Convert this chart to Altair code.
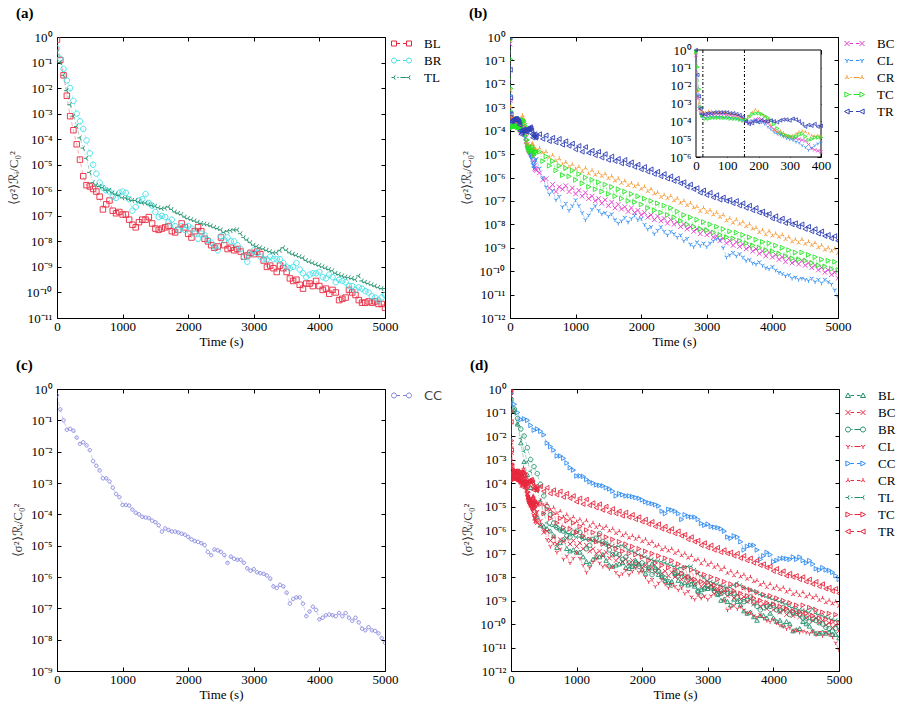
import altair as alt
import pandas as pd

FONT = "Liberation Serif"
W = 328
H_TOP = 281
H_BOT = 282

# ---------------- data: log10 of <sigma^2>_Ri / C0^2 ----------------
T_50 = list(range(0, 5001, 50))

A_BL = [
    -0.1, -0.9, -1.5, -2.3, -3.1, -3.65, -4.2, -4.8, -5.45, -5.8,
    -5.85, -5.95, -6.05, -6.25, -6.75, -6.55, -6.4, -6.8, -6.9, -6.85,
    -6.95, -6.95, -7.15, -7.35, -7.45, -7.25, -7.15, -7.15, -7.05, -7.3,
    -7.5, -7.55, -7.5, -7.45, -7.4, -7.6, -7.65, -7.55, -7.3, -7.45,
    -7.7, -7.85, -7.6, -7.45, -7.6, -7.9, -8.0, -8.15, -8.25, -8.2,
    -7.85, -8.15, -8.3, -8.25, -8.35, -8.3, -8.4, -8.6, -8.55, -8.45,
    -8.5, -8.4, -8.5, -8.75, -9.0, -8.95, -9.05, -9.2, -8.95, -9.05,
    -9.2, -9.45, -9.55, -9.5, -9.7, -9.85, -9.65, -9.65, -9.75, -9.55,
    -9.75, -9.9, -9.85, -10.05, -9.9, -10.0, -10.3, -10.25, -10.2, -9.9,
    -10.0, -10.1, -10.3, -10.4, -10.4, -10.35, -10.4, -10.35, -10.45, -10.45,
    -10.6]
A_BR = [
    -0.45, -0.85, -1.25, -1.7, -2.0, -2.5, -3.0, -3.3, -3.6, -4.05,
    -4.55, -5.0, -5.35, -5.7, -5.9, -6.0, -6.05, -6.25, -6.3, -6.1,
    -6.05, -6.1, -6.35, -6.8, -6.65, -6.4, -6.35, -6.15, -6.5, -6.6,
    -6.85, -7.05, -7.0, -7.05, -7.25, -7.15, -7.4, -7.55, -7.4, -7.55,
    -7.4, -7.5, -7.7, -7.9, -7.7, -7.75, -7.95, -8.05, -8.2, -8.35,
    -7.8, -7.95, -7.85, -8.0, -8.0, -8.15, -8.3, -8.6, -8.8, -8.5,
    -8.35, -8.45, -8.6, -8.7, -8.7, -8.6, -8.7, -8.7, -8.7, -8.85,
    -9.0, -9.05, -9.0, -8.85, -9.1, -9.25, -9.4, -9.3, -9.25, -9.25,
    -9.2, -9.4, -9.45, -9.3, -9.4, -9.6, -9.5, -9.55, -9.6, -9.75,
    -9.75, -9.9, -9.8, -9.85, -9.95, -10.0, -10.15, -10.2, -10.3, -10.2,
    -10.1]
A_TL = [
    -0.6, -1.0, -1.5, -2.1, -2.65, -3.1, -3.5, -3.95, -4.35, -4.75,
    -5.3, -5.7, -5.8, -5.85, -5.9, -6.0, -6.0, -6.1, -6.15, -6.2,
    -6.3, -6.3, -6.35, -6.4, -6.4, -6.45, -6.5, -6.5, -6.55, -6.6,
    -6.62, -6.68, -6.72, -6.7, -6.65, -6.75, -6.85, -6.9, -6.95, -7.05,
    -7.1, -7.15, -7.2, -7.25, -7.3, -7.32, -7.35, -7.4, -7.45, -7.5,
    -7.55, -7.65, -7.6, -7.58, -7.55, -7.55, -7.7, -7.85, -7.95, -8.05,
    -8.15, -8.2, -8.25, -8.3, -8.35, -8.4, -8.45, -8.45, -8.35, -8.25,
    -8.35, -8.45, -8.5, -8.55, -8.6, -8.65, -8.75, -8.8, -8.85, -8.9,
    -8.95, -9.0, -9.05, -9.1, -9.15, -9.25, -9.3, -9.35, -9.4, -9.42,
    -9.45, -9.5, -9.35, -9.55, -9.6, -9.65, -9.7, -9.75, -9.8, -9.85,
    -9.85]
C_CC = [
    -0.2, -0.65, -1.0, -1.3, -1.27, -1.33, -1.55, -1.75, -1.7, -1.8,
    -1.95, -2.3, -2.45, -2.6, -2.85, -2.85, -2.95, -3.15, -3.35, -3.45,
    -3.7, -3.7, -3.72, -3.85, -3.95, -4.0, -4.08, -4.1, -4.12, -4.2,
    -4.25, -4.35, -4.55, -4.45, -4.5, -4.55, -4.55, -4.58, -4.62, -4.65,
    -4.72, -4.8, -4.85, -4.88, -4.92, -4.98, -5.2, -5.3, -5.12, -5.15,
    -5.2, -5.3, -5.55, -5.35, -5.42, -5.45, -5.45, -5.55, -5.72, -5.8,
    -5.75, -5.85, -5.88, -5.9, -5.95, -6.05, -6.3, -6.35, -6.25, -6.3,
    -6.5, -6.85, -6.7, -6.65, -6.65, -6.85, -7.25, -7.1, -6.95, -7.05,
    -7.35, -7.3, -7.22, -7.2, -7.22, -7.25, -7.15, -7.25, -7.15, -7.3,
    -7.4, -7.3, -7.45, -7.65, -7.7, -7.6, -7.7, -7.72, -7.8, -7.95,
    -8.1]

T_B = [0, 5, 10, 15, 20] + list(range(30, 401, 10)) + list(range(450, 5001, 50))

B_BC = [
    -0.3, -2.7, -3.3, -3.55, -3.65,
    -3.65, -3.6, -3.6, -3.6, -3.6, -3.6, -3.6, -3.65, -3.65, -3.7,
    -3.7, -3.75, -3.85, -4.0, -4.1, -4.0, -3.9, -3.85, -3.9, -4.0,
    -4.1, -4.3, -4.45, -4.6, -4.7, -4.8, -4.85, -4.9, -4.95, -4.95,
    -5.0, -5.05, -5.1, -5.3, -5.5, -5.6, -5.65, -5.7,
    -5.8, -6.1, -6.05, -6.45, -6.3, -6.6, -6.4, -6.5, -6.35, -6.6,
    -6.45, -6.7, -6.55, -6.8, -6.65, -6.9, -6.8, -7.0, -6.9, -7.1,
    -6.95, -7.2, -7.05, -7.3, -7.15, -7.35, -7.25, -7.45, -7.3, -7.5,
    -7.4, -7.6, -7.5, -7.7, -7.6, -7.8, -7.65, -7.85, -7.75, -7.95,
    -7.8, -8.0, -7.9, -8.1, -8.0, -8.2, -8.1, -8.3, -8.2, -8.4,
    -8.25, -8.45, -8.35, -8.55, -8.5, -8.7, -8.6, -8.8, -8.7, -8.9,
    -8.75, -8.95, -8.85, -9.05, -8.95, -9.15, -9.05, -9.25, -9.15, -9.35,
    -9.2, -9.4, -9.3, -9.5, -9.4, -9.6, -9.45, -9.65, -9.55, -9.7,
    -9.55, -9.75, -9.65, -9.85, -9.75, -9.95, -9.85, -10.05, -9.95, -10.15,
    -10.05, -10.3]
B_CL = [
    -0.2, -2.5, -3.2, -3.6, -3.75,
    -3.8, -3.75, -3.75, -3.75, -3.75, -3.75, -3.8, -3.8, -3.8, -3.85,
    -3.85, -3.9, -3.95, -4.0, -4.0, -3.95, -3.95, -4.0, -4.05, -4.15,
    -4.3, -4.45, -4.6, -4.7, -4.75, -4.85, -4.95, -5.0, -5.05, -5.15,
    -5.2, -5.35, -5.45, -5.6, -5.5, -5.35, -5.25, -5.2,
    -5.6, -6.0, -6.4, -6.7, -6.55, -6.95, -6.8, -7.25, -7.1, -7.4,
    -7.2, -6.95, -7.2, -7.5, -7.8, -7.6, -7.35, -7.2, -7.4, -7.55,
    -7.5, -7.65, -7.55, -7.8, -7.95, -7.85, -7.7, -7.9, -7.75, -7.6,
    -7.8, -7.75, -8.0, -8.2, -8.1, -8.4, -8.25, -8.1, -8.3, -8.45,
    -8.3, -8.4, -8.55, -8.45, -8.7, -8.6, -8.85, -8.95, -8.75, -8.9,
    -8.8, -8.95, -8.8, -8.7, -8.6, -8.65, -9.0, -9.4, -9.3, -9.2,
    -9.35, -9.25, -9.4, -9.55, -9.5, -9.65, -9.7, -9.6, -9.75, -9.85,
    -9.9, -9.8, -9.95, -10.05, -10.1, -10.2, -10.15, -10.3, -10.25, -10.35,
    -10.3, -10.35, -10.4, -10.3, -10.45, -10.35, -10.5, -10.35, -10.45, -10.55,
    -10.8, -11.1]
B_CR = [
    -0.2, -2.3, -3.0, -3.4, -3.5,
    -3.5, -3.45, -3.45, -3.5, -3.5, -3.5, -3.5, -3.55, -3.6, -3.6,
    -3.65, -3.7, -3.85, -3.9, -3.7, -3.5, -3.35, -3.45, -3.6, -3.75,
    -3.9, -4.2, -4.5, -4.6, -4.55, -4.65, -4.8, -4.85, -4.8, -4.7,
    -4.6, -4.55, -4.6, -4.7, -4.8, -4.85, -4.8, -4.85,
    -4.75, -4.95, -4.9, -5.15, -5.05, -5.3, -5.2, -5.45, -5.35, -5.55,
    -5.45, -5.65, -5.55, -5.75, -5.6, -5.85, -5.7, -5.9, -5.8, -5.95,
    -5.85, -6.05, -5.95, -6.15, -6.05, -6.25, -6.15, -6.35, -6.25, -6.4,
    -6.3, -6.5, -6.4, -6.6, -6.5, -6.7, -6.65, -6.85, -6.75, -6.9,
    -6.8, -7.0, -6.9, -7.1, -7.0, -7.2, -7.1, -7.3, -7.25, -7.45,
    -7.3, -7.5, -7.4, -7.6, -7.5, -7.7, -7.6, -7.85, -7.75, -7.95,
    -7.8, -8.0, -7.9, -8.1, -8.0, -8.2, -8.15, -8.35, -8.25, -8.45,
    -8.3, -8.5, -8.4, -8.55, -8.45, -8.65, -8.55, -8.75, -8.65, -8.8,
    -8.65, -8.85, -8.75, -8.9, -8.8, -9.0, -8.9, -9.1, -9.0, -9.15,
    -9.05, -9.25]
B_TC = [
    -0.1, -0.95, -2.2, -3.2, -3.7,
    -3.85, -3.85, -3.8, -3.8, -3.8, -3.8, -3.8, -3.8, -3.85, -3.85,
    -3.85, -3.9, -3.95, -3.9, -3.75, -3.6, -3.55, -3.55, -3.6, -3.7,
    -3.8, -3.95, -4.15, -4.4, -4.65, -4.75, -4.8, -4.85, -4.9, -4.85,
    -4.75, -4.7, -4.85, -5.05, -5.0, -4.9, -4.9, -4.9,
    -4.9, -5.3, -5.1, -5.5, -5.3, -5.7, -5.5, -5.9, -5.6, -5.95,
    -5.7, -6.1, -5.85, -6.25, -6.0, -6.4, -6.1, -6.5, -6.2, -6.6,
    -6.3, -6.7, -6.4, -6.8, -6.5, -6.9, -6.6, -7.0, -6.7, -7.05,
    -6.8, -7.15, -6.9, -7.3, -7.0, -7.4, -7.1, -7.5, -7.2, -7.6,
    -7.3, -7.7, -7.45, -7.85, -7.6, -8.0, -7.7, -8.1, -7.8, -8.2,
    -7.9, -8.25, -8.0, -8.35, -8.1, -8.45, -8.2, -8.55, -8.3, -8.6,
    -8.35, -8.7, -8.45, -8.8, -8.55, -8.9, -8.65, -9.0, -8.75, -9.1,
    -8.8, -9.15, -8.9, -9.25, -9.0, -9.35, -9.1, -9.45, -9.2, -9.5,
    -9.2, -9.55, -9.3, -9.65, -9.4, -9.75, -9.5, -9.8, -9.55, -9.9,
    -9.6, -9.95]
B_TR = [
    0.0, -1.4, -2.6, -3.3, -3.6,
    -3.6, -3.55, -3.55, -3.5, -3.5, -3.5, -3.5, -3.5, -3.55, -3.55,
    -3.6, -3.65, -3.75, -4.0, -4.15, -4.1, -4.0, -4.05, -3.95, -4.0,
    -4.0, -3.95, -4.0, -4.05, -3.95, -3.9, -3.9, -3.95, -3.85, -3.9,
    -4.0, -4.15, -4.3, -4.2, -4.25, -4.15, -4.3, -4.25,
    -4.15, -4.35, -4.2, -4.45, -4.3, -4.5, -4.35, -4.6, -4.45, -4.65,
    -4.55, -4.8, -4.65, -4.9, -4.7, -4.95, -4.85, -5.05, -4.9, -5.15,
    -5.0, -5.25, -5.1, -5.3, -5.2, -5.4, -5.25, -5.45, -5.35, -5.55,
    -5.45, -5.65, -5.55, -5.75, -5.65, -5.85, -5.75, -5.95, -5.85, -6.05,
    -5.95, -6.15, -6.05, -6.25, -6.2, -6.4, -6.3, -6.5, -6.45, -6.65,
    -6.55, -6.75, -6.65, -6.85, -6.75, -6.95, -6.85, -7.0, -6.95, -7.1,
    -7.0, -7.2, -7.1, -7.3, -7.2, -7.4, -7.3, -7.5, -7.45, -7.6,
    -7.55, -7.75, -7.65, -7.85, -7.75, -7.95, -7.85, -8.0, -7.95, -8.1,
    -8.0, -8.2, -8.1, -8.3, -8.2, -8.4, -8.3, -8.5, -8.45, -8.6,
    -8.5, -8.7]

INSET_MAX_T = 400
INSET_VLINES = [22, 155]
X_TICKS = [0, 1000, 2000, 3000, 4000, 5000]
INSET_X_TICKS = [0, 100, 200, 300, 400]

for arr in (A_BL, A_BR, A_TL, C_CC):
    assert len(arr) == len(T_50)
for arr in (B_BC, B_CL, B_CR, B_TC, B_TR):
    assert len(arr) == len(T_B)


def frame(t, logs, name):
    return pd.DataFrame({"t": t, "v": [10.0 ** x for x in logs], "s": name})


df_a = pd.concat([frame(T_50, A_BL, "BL"), frame(T_50, A_BR, "BR"), frame(T_50, A_TL, "TL")])
df_b = pd.concat([frame(T_B, B_BC, "BC"), frame(T_B, B_CL, "CL"), frame(T_B, B_CR, "CR"),
                  frame(T_B, B_TC, "TC"), frame(T_B, B_TR, "TR")])
df_c = frame(T_50, C_CC, "CC")
df_d = pd.concat([frame(T_50, A_BL, "BL"), frame(T_B, B_BC, "BC"), frame(T_50, A_BR, "BR"),
                  frame(T_B, B_CL, "CL"), frame(T_50, C_CC, "CC"), frame(T_B, B_CR, "CR"),
                  frame(T_50, A_TL, "TL"), frame(T_B, B_TC, "TC"), frame(T_B, B_TR, "TR")])

# ---------------- styles ----------------
RED = "#e8283e"
CYAN = "#3cdfe6"
TEAL = "#1e8f6a"
MAGENTA = "#e23ccb"
BLUE = "#2f8cf0"
ORANGE = "#f5962e"
GREEN = "#25e625"
NAVY = "#2f3fb5"
PERI = "#8080dc"

DASHED = [4, 3]
DASHDOT = [4, 2, 1, 2]


def n(v):
    return f"{round(v, 3):g}"


def marker(kind, cx, r):
    if kind == "square":
        return f"M{n(cx-r)},{n(-r)}H{n(cx+r)}V{n(r)}H{n(cx-r)}Z"
    if kind == "circle":
        return f"M{n(cx-r)},0A{n(r)} {n(r)} 0 1 0 {n(cx+r)} 0A{n(r)} {n(r)} 0 1 0 {n(cx-r)} 0Z"
    if kind == "x":
        return f"M{n(cx-r)},{n(-r)}L{n(cx+r)},{n(r)}M{n(cx-r)},{n(r)}L{n(cx+r)},{n(-r)}"
    if kind == "tridown":
        return (f"M{n(cx)},0V{n(r)}M{n(cx)},0L{n(cx-0.87*r)},{n(-0.5*r)}"
                f"M{n(cx)},0L{n(cx+0.87*r)},{n(-0.5*r)}")
    if kind == "triup":
        return (f"M{n(cx)},0V{n(-r)}M{n(cx)},0L{n(cx-0.87*r)},{n(0.5*r)}"
                f"M{n(cx)},0L{n(cx+0.87*r)},{n(0.5*r)}")
    if kind == "trileft":
        return (f"M{n(cx)},0H{n(cx-r)}M{n(cx)},0L{n(cx+0.5*r)},{n(-0.87*r)}"
                f"M{n(cx)},0L{n(cx+0.5*r)},{n(0.87*r)}")
    if kind == "tright":
        return f"M{n(cx-0.85*r)},{n(-r)}L{n(cx+r)},0L{n(cx-0.85*r)},{n(r)}Z"
    if kind == "tleft":
        return f"M{n(cx+0.85*r)},{n(-r)}L{n(cx-r)},0L{n(cx+0.85*r)},{n(r)}Z"
    if kind == "tup":
        return f"M{n(cx)},{n(-r)}L{n(cx+r)},{n(0.8*r)}L{n(cx-r)},{n(0.8*r)}Z"
    raise ValueError(kind)


def legend_symbol(kind, dash, r=0.5):
    if dash == "dashed":
        conn = "M-1,0H-0.3M0.3,0H1"
    else:
        conn = "M-0.85,0H-0.6M-0.2,0H1"
    return marker(kind, -1.5, r) + conn + marker(kind, 1.5, r)


SUPS = "⁰¹²³⁴⁵⁶⁷⁸⁹"
E = "round(-log(datum.value)/LN10)"
SUP_EXPR = ("'10' + (" + E + " < 0.5 ? '⁰' : '⁻' + (" + E + " >= 10 ? '¹' + substring('" + SUPS
            + "', " + E + " - 10, " + E + " - 9) : substring('" + SUPS + "', " + E + ", " + E + " + 1)))")
YTITLE = "⟨σ²⟩ℛᵢ/C₀²"


def ax_x_bottom(values, offset, with_title=True):
    kw = dict(orient="bottom", values=values, format="d", offset=offset, tickSize=4, tickColor="black",
              domain=False, grid=False, labelPadding=2, labelFont=FONT, labelFontSize=13,
              labelColor="black", labelFlush=False, labelOverlap=False)
    if with_title:
        kw.update(title="Time (s)", titleFont=FONT, titleFontSize=13, titleFontWeight="normal",
                  titleColor="black", titlePadding=2)
    else:
        kw["title"] = None
    return alt.Axis(**kw)


def ax_x_top(values, offset):
    return alt.Axis(orient="top", values=values, offset=offset, tickSize=4, tickColor="black",
                    domain=False, grid=False, labels=False, title=None)


def ax_y_left(values, offset, with_title=True, title_pad=6):
    kw = dict(orient="left", values=values, labelExpr=SUP_EXPR, offset=offset, tickSize=4,
              tickColor="black", domain=False, grid=False, labelPadding=5, labelFont=FONT,
              labelFontSize=13, labelColor="black", labelOverlap=False)
    if with_title:
        kw.update(title=YTITLE, titleFont=FONT, titleFontSize=13, titleFontWeight="normal",
                  titleColor="#333333", titlePadding=title_pad)
    else:
        kw["title"] = None
    return alt.Axis(**kw)


def ax_y_right(values, offset):
    return alt.Axis(orient="right", values=values, offset=offset, tickSize=4, tickColor="black",
                    domain=False, grid=False, labels=False, title=None)


def main_group(df, order, colors, kinds, dashes, ymin_exp, pt_size, leg_offset,
               leg_font=FONT, leg_color="black"):
    yticks = [10.0 ** -k for k in range(0, ymin_exp + 1)]
    xs = alt.Scale(domain=[0, 5000], nice=False, zero=False)
    ys = alt.Scale(type="log", domain=[10.0 ** -ymin_exp, 1.0], nice=False)
    col = alt.Scale(domain=order, range=colors)
    pt_shapes = [marker(k, 0, 1) for k in kinds]
    leg_shapes = [legend_symbol(k, d) for k, d in zip(kinds, dashes)]
    dash_range = [DASHED if d == "dashed" else DASHDOT for d in dashes]
    leg = alt.Legend(title=None, orient="right", offset=leg_offset, padding=0, labelFont=leg_font,
                     labelFontSize=13, labelColor=leg_color, symbolSize=100, symbolStrokeWidth=1,
                     symbolOffset=5, labelOffset=16, rowPadding=3, labelLimit=80)
    base = alt.Chart(df)
    lines = base.mark_line(strokeWidth=0.7, opacity=0.55, clip=True).encode(
        x=alt.X("t:Q", scale=xs, axis=ax_x_top(X_TICKS, -4)),
        y=alt.Y("v:Q", scale=ys, axis=ax_y_right(yticks, -4)),
        color=alt.Color("s:N", scale=col, legend=None),
        strokeDash=alt.StrokeDash("s:N", scale=alt.Scale(domain=order, range=dash_range), legend=None),
    )
    points = base.mark_point(filled=False, strokeWidth=0.9, opacity=1, size=pt_size, clip=True).encode(
        x=alt.X("t:Q", scale=xs, axis=ax_x_bottom(X_TICKS, -4)),
        y=alt.Y("v:Q", scale=ys, axis=ax_y_left(yticks, -4)),
        color=alt.Color("s:N", scale=col, legend=None),
        shape=alt.Shape("s:N", scale=alt.Scale(domain=order, range=pt_shapes), legend=None),
    )
    legend_layer = base.transform_filter("false").mark_point(
        filled=False, strokeWidth=1, opacity=1, size=100).encode(
        x=alt.X("t:Q", scale=xs, axis=None),
        y=alt.Y("v:Q", scale=ys, axis=None),
        color=alt.Color("s:N", scale=col, legend=leg),
        shape=alt.Shape("s:N", scale=alt.Scale(domain=order, range=leg_shapes), legend=leg),
    )
    return alt.layer(lines, points, legend_layer).resolve_scale(
        color="independent", shape="independent", strokeDash="independent")


def title(txt):
    return alt.TitleParams(text=txt, anchor="start", frame="group", dx=-41, fontSize=15, font=FONT,
                           fontWeight="bold", color="black", offset=10)


# ---------------- panel (a) ----------------
ORDER_A = ["BL", "BR", "TL"]
pa = main_group(df_a, ORDER_A, [RED, CYAN, TEAL], ["square", "circle", "trileft"],
                ["dashed", "dashed", "dashdot"], 11, 30, 4).properties(
    width=W, height=H_TOP, title=title("(a)"))

# ---------------- panel (b) with inset ----------------
ORDER_B = ["BC", "CL", "CR", "TC", "TR"]
COLORS_B = [MAGENTA, BLUE, ORANGE, GREEN, NAVY]
KINDS_B = ["x", "tridown", "triup", "tright", "tleft"]
DASH_B = ["dashed", "dashed", "dashdot", "dashdot", "dashed"]
main_b = main_group(df_b, ORDER_B, COLORS_B, KINDS_B, DASH_B, 12, 22, 4)

IN_X0, IN_X1, IN_YB, IN_YT = 186, 311, 120, 13
inset_yticks = [10.0 ** -k for k in range(0, 7)]
xs_in = alt.Scale(domain=[INSET_X_TICKS[0], INSET_X_TICKS[-1]], range=[IN_X0, IN_X1], nice=False, zero=False)
ys_in = alt.Scale(type="log", domain=[inset_yticks[-1], inset_yticks[0]], range=[IN_YB, IN_YT], nice=False)
col_in = alt.Scale(domain=ORDER_B, range=COLORS_B)
df_box = pd.DataFrame({"x0": [INSET_X_TICKS[0]], "x1": [INSET_X_TICKS[-1]],
                       "y0": [inset_yticks[-1]], "y1": [inset_yticks[0]]})
box = alt.Chart(df_box).mark_rect(fill="white", stroke="black", strokeWidth=1).encode(
    x=alt.X("x0:Q", scale=xs_in, axis=ax_x_top(INSET_X_TICKS, -(IN_YT + 4))),
    x2="x1:Q",
    y=alt.Y("y0:Q", scale=ys_in, axis=ax_y_right(inset_yticks, (IN_X1 - 4) - W)),
    y2="y1:Q",
)
vlines = alt.Chart(pd.DataFrame({"t": INSET_VLINES})).mark_rule(
    color="black", strokeWidth=1, strokeDash=[3, 2, 1, 2]).encode(
    x=alt.X("t:Q", scale=xs_in, axis=None),
    y=alt.YDatum(inset_yticks[-1], scale=ys_in, axis=None),
    y2=alt.Y2Datum(inset_yticks[0]),
)
df_in = df_b[df_b["t"] <= INSET_MAX_T]
in_lines = alt.Chart(df_in).mark_line(strokeWidth=0.6, opacity=0.5).encode(
    x=alt.X("t:Q", scale=xs_in, axis=None),
    y=alt.Y("v:Q", scale=ys_in, axis=None),
    color=alt.Color("s:N", scale=col_in, legend=None),
    strokeDash=alt.StrokeDash("s:N", scale=alt.Scale(domain=ORDER_B, range=[DASHED if d == "dashed" else DASHDOT for d in DASH_B]), legend=None),
)
in_points = alt.Chart(df_in).mark_point(filled=False, strokeWidth=0.8, opacity=1, size=12).encode(
    x=alt.X("t:Q", scale=xs_in, axis=ax_x_bottom(INSET_X_TICKS, (IN_YB - 4) - H_TOP, with_title=False)),
    y=alt.Y("v:Q", scale=ys_in, axis=ax_y_left(inset_yticks, -(IN_X0 + 4), with_title=False)),
    color=alt.Color("s:N", scale=col_in, legend=None),
    shape=alt.Shape("s:N", scale=alt.Scale(domain=ORDER_B, range=[marker(k, 0, 1) for k in KINDS_B]), legend=None),
)
inset = alt.layer(box, vlines, in_lines, in_points)
pb = alt.layer(main_b, inset).resolve_scale(
    x="independent", y="independent", color="independent", shape="independent",
    strokeDash="independent").properties(width=W, height=H_TOP, title=title("(b)"))

# ---------------- panel (c) ----------------
pc = main_group(df_c, ["CC"], [PERI], ["circle"], ["dashed"], 9, 12, 4,
                leg_font="DejaVu Sans", leg_color="#444444").properties(
    width=W, height=H_BOT, title=title("(c)"))

# ---------------- panel (d) ----------------
ORDER_D = ["BL", "BC", "BR", "CL", "CC", "CR", "TL", "TC", "TR"]
COLORS_D = [TEAL, RED, TEAL, RED, BLUE, RED, TEAL, RED, RED]
KINDS_D = ["tup", "x", "circle", "tridown", "tright", "triup", "trileft", "tright", "tleft"]
DASH_D = ["dashed", "dashed", "dashdot", "dashdot", "dashed", "dashed", "dashdot", "dashdot", "dashed"]
pd_ = main_group(df_d, ORDER_D, COLORS_D, KINDS_D, DASH_D, 12, 20, 4).properties(
    width=W, height=H_BOT, title=title("(d)"))

RES = dict(color="independent", shape="independent", strokeDash="independent")
row1 = alt.hconcat(pa, pb, spacing=16).resolve_scale(**RES)
row2 = alt.hconcat(pc, pd_, spacing=16).resolve_scale(**RES)

chart = alt.vconcat(row1, row2, spacing=8).resolve_scale(**RES).properties(
    padding={"left": 6, "top": 5, "right": 0, "bottom": 0}, background="white"
).configure_view(stroke="black", strokeWidth=1)

chart.save("out.html", embed_options={"renderer": "svg", "actions": False})
